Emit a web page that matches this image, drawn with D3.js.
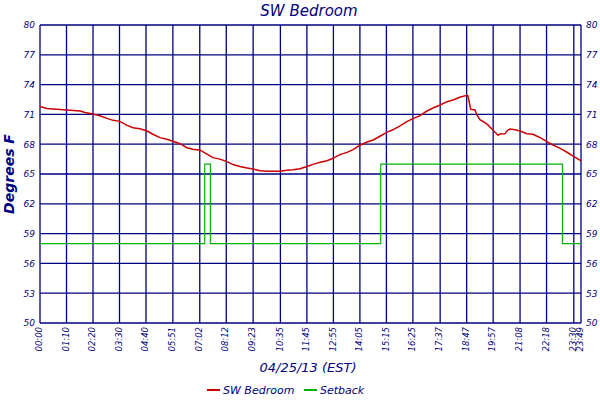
<!DOCTYPE html>
<html><head><meta charset="utf-8">
<script src="https://cdn.jsdelivr.net/npm/d3@7"></script>
<style>
html,body{margin:0;padding:0;background:#fff;}
svg{display:block;}
text{font-family:"DejaVu Sans",Verdana,sans-serif;fill:#000080;}
</style></head>
<body>
<svg id="chart" width="600" height="400"></svg>
<script>
// ---- data ----
const title = "SW Bedroom";
const xTitle = "04/25/13 (EST)";
const yTitle = "Degrees F";
const seriesNames = ["SW Bedroom", "Setback"];
const seriesColors = ["#cc0000", "#00b400"];

const xTickLabels = ["00:00","01:10","02:20","03:30","04:40","05:51","07:02","08:12","09:23","10:35","11:45","12:55","14:05","15:15","16:25","17:37","18:47","19:57","21:08","22:18","23:30","23:49"];
const yTickValues = [50,53,56,59,62,65,68,71,74,77,80];

const tempTimes = ["00:00","00:18","00:53","01:46","01:59","02:20","02:38","02:57","03:13","03:31","03:50","04:06","04:24","04:43","04:58","05:17","05:35","05:51","06:10","06:28","06:44","07:03","07:21","07:37","07:55","08:14","08:30","08:48","09:07","09:23","09:41","10:00","10:34","10:52","11:08","11:27","11:45","12:01","12:20","12:38","12:54","13:12","13:31","13:47","14:05","14:24","14:40","14:58","15:17","15:32","15:51","16:09","16:25","16:44","17:02","17:18","17:37","17:55","18:11","18:29","18:43","18:50","18:53","18:56","18:58","19:09","19:14","19:22","19:35","19:43","19:54","20:02","20:10","20:15","20:28","20:34","20:41","20:55","21:08","21:26","21:42","21:53","22:01","22:19","22:35","22:54","23:12","23:28","23:46","23:49"];
const tempValues = [71.8,71.6,71.5,71.35,71.2,71.05,70.87,70.6,70.4,70.3,69.9,69.66,69.56,69.33,69.0,68.66,68.5,68.3,68.05,67.65,67.5,67.4,67.0,66.65,66.5,66.25,65.95,65.75,65.6,65.5,65.33,65.27,65.27,65.37,65.43,65.53,65.75,65.97,66.18,66.34,66.58,66.95,67.18,67.45,67.9,68.22,68.42,68.8,69.22,69.45,69.85,70.27,70.57,70.87,71.34,71.64,71.95,72.28,72.45,72.72,72.88,72.9,72.4,71.8,71.5,71.45,70.94,70.47,70.17,69.94,69.5,69.2,68.9,69.03,69.06,69.36,69.53,69.46,69.33,69.06,69.0,68.8,68.66,68.26,67.92,67.58,67.19,66.8,66.4,66.3];

const setbackTimes = ["00:00","07:15","07:30","15:00","23:00","23:49"];
const setbackValues = [58,66,58,66,58,58];

// ---- helpers ----
const toMin = s => { const [h,m] = s.split(":").map(Number); return h*60+m; };

const svg = d3.select("#chart");
const W = 600, H = 400;
const m = {left:40, right:19, top:25, bottom:77};
const x = d3.scaleLinear().domain([0, toMin("23:49")]).range([m.left, W - m.right]);
const y = d3.scaleLinear().domain([50, 80]).range([H - m.bottom, m.top]);
const navy = "#000080";

// grid
const g = svg.append("g");
g.selectAll("line.vg").data(xTickLabels).join("line")
  .attr("x1", d => x(toMin(d))).attr("x2", d => x(toMin(d)))
  .attr("y1", y(50)).attr("y2", y(80))
  .attr("stroke", navy).attr("stroke-width", 1.3);
g.selectAll("line.hg").data(yTickValues).join("line")
  .attr("x1", x.range()[0]).attr("x2", x.range()[1])
  .attr("y1", d => y(d)).attr("y2", d => y(d))
  .attr("stroke", navy).attr("stroke-width", 1.3);

// axes labels via d3 axes
const yLeft = d3.axisLeft(y).tickValues(yTickValues).tickSize(0).tickPadding(5);
const yRight = d3.axisRight(y).tickValues(yTickValues).tickSize(0).tickPadding(5);
const ax1 = svg.append("g").attr("transform", `translate(${m.left},0)`).call(yLeft);
const ax2 = svg.append("g").attr("transform", `translate(${W - m.right},0)`).call(yRight);
[ax1, ax2].forEach(a => {
  a.select(".domain").remove();
  a.selectAll("text").attr("font-size", 9).attr("font-style", "italic").style("fill", navy)
    .attr("font-family", "DejaVu Sans");
});

const xAxis = d3.axisBottom(x).tickValues(xTickLabels.map(toMin))
  .tickFormat((d, i) => xTickLabels[i]).tickSize(0).tickPadding(0);
const ax3 = svg.append("g").attr("transform", `translate(0,${y(50)})`).call(xAxis);
ax3.select(".domain").remove();
ax3.selectAll("text")
  .attr("font-size", 8.5).attr("font-style", "italic").attr("font-family", "DejaVu Sans").style("fill", navy)
  .attr("transform", "rotate(-90)")
  .attr("text-anchor", "end")
  .attr("x", -4).attr("y", 0).attr("dy", "0.2em");

// series
const tempData = tempTimes.map((t, i) => ({t: toMin(t), v: tempValues[i]}));
const setData = setbackTimes.map((t, i) => ({t: toMin(t), v: setbackValues[i]}));

svg.append("path").datum(setData)
  .attr("fill", "none").attr("stroke", seriesColors[1]).attr("stroke-width", 1.2)
  .attr("d", d3.line().x(d => x(d.t)).y(d => y(d.v)).curve(d3.curveStepAfter));

svg.append("path").datum(tempData)
  .attr("fill", "none").attr("stroke", seriesColors[0]).attr("stroke-width", 1.5)
  .attr("d", d3.line().x(d => x(d.t)).y(d => y(d.v)));

// titles
svg.append("text").attr("x", 309).attr("y", 16).attr("text-anchor", "middle")
  .attr("font-size", 15).attr("font-style", "italic").text(title);
svg.append("text").attr("x", 308).attr("y", 372).attr("text-anchor", "middle")
  .attr("font-size", 13).attr("font-style", "italic").text(xTitle);
svg.append("text").attr("transform", "translate(14,174) rotate(-90)").attr("text-anchor", "middle")
  .attr("font-size", 14).attr("font-style", "italic").attr("font-weight", "bold")
  .attr("font-family", "Liberation Serif").style("fill", navy).text(yTitle);

// legend
const legX = [207, 304];
seriesNames.forEach((n, i) => {
  svg.append("line").attr("x1", legX[i]).attr("x2", legX[i] + 13).attr("y1", 390).attr("y2", 390)
    .attr("stroke", seriesColors[i]).attr("stroke-width", 2);
  svg.append("text").attr("x", legX[i] + 16).attr("y", 394)
    .attr("font-size", 11).attr("font-style", "italic").text(n);
});
</script>
</body></html>
